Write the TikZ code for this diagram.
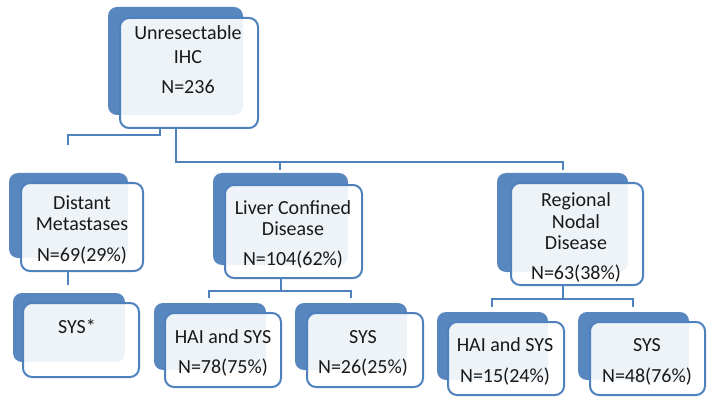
\documentclass[tikz,border=0pt]{standalone}
\usepackage{fontspec}
\setmainfont{Carlito}
\usetikzlibrary{backgrounds}
\definecolor{sablue}{RGB}{79,129,189}
\tikzset{
  backbox/.style={fill=sablue!95!white, rounded corners=9pt, inner sep=0pt, outer sep=0pt},
  frontbox/.style={draw=sablue, line width=2pt, fill=white, fill opacity=0.9, rounded corners=9pt, inner sep=0pt, outer sep=0pt},
  conn/.style={draw=sablue, line width=2pt},
  lbl/.style={anchor=base, inner sep=0pt, font=\fontsize{20}{24}\selectfont, text=black!90},
}
\begin{document}
\begin{tikzpicture}[x=1pt,y=-1pt]
\useasboundingbox (0,0) rectangle (714,406);
% back boxes
\node[backbox, minimum width=135pt, minimum height=108pt] (n0b) at (175.5,61) {};
\node[backbox, minimum width=119pt, minimum height=85pt] (n1b) at (68.5,215.5) {};
\node[backbox, minimum width=135pt, minimum height=92pt] (n2b) at (280.5,219) {};
\node[backbox, minimum width=131pt, minimum height=99pt] (n3b) at (562.5,222.5) {};
\node[backbox, minimum width=112pt, minimum height=69pt] (n4b) at (69,327.5) {};
\node[backbox, minimum width=112pt, minimum height=67pt] (n5b) at (210,336.5) {};
\node[backbox, minimum width=112pt, minimum height=67pt] (n6b) at (351,336.5) {};
\node[backbox, minimum width=111pt, minimum height=68pt] (n7b) at (492.5,346) {};
\node[backbox, minimum width=111pt, minimum height=68pt] (n8b) at (633.5,346) {};
% connector ends
\coordinate (c1) at (68,145);
\coordinate (c2) at (280,170);
\coordinate (c3) at (563,170);
\coordinate (c4) at (68,285);
\coordinate (c5) at (209,298);
\coordinate (c6) at (351,298);
\coordinate (c7) at (492,307);
\coordinate (c8) at (633,307);
% front boxes (named nodes)
\node[frontbox, minimum width=138pt, minimum height=110pt] (n0) at (189,73) {};
\node[frontbox, minimum width=122pt, minimum height=88pt] (n1) at (82,227) {};
\node[frontbox, minimum width=137pt, minimum height=93pt] (n2) at (293.5,231.5) {};
\node[frontbox, minimum width=132pt, minimum height=102pt] (n3) at (577,234) {};
\node[frontbox, minimum width=116pt, minimum height=74pt] (n4) at (81,340) {};
\node[frontbox, minimum width=116pt, minimum height=74pt] (n5) at (223,350) {};
\node[frontbox, minimum width=116pt, minimum height=74pt] (n6) at (365,350) {};
\node[frontbox, minimum width=116pt, minimum height=73pt] (n7) at (506,358.5) {};
\node[frontbox, minimum width=115pt, minimum height=73pt] (n8) at (647.5,358.5) {};
% connectors (beneath the boxes)
\begin{scope}[on background layer]
\draw[conn] (n0.south -| 160,0) |- (68,135) -- (c1);
\draw[conn] (n0.south -| 176,0) |- (563,162) -- (c3);
\draw[conn] (280,162) -- (c2);
\draw[conn] (n1.south -| c4) -- (c4);
\draw[conn] (n2.south -| 281,0) -- (281,291);
\draw[conn] (c5) |- (281,291) -| (c6);
\draw[conn] (n3.south -| 563,0) -- (563,299);
\draw[conn] (c7) |- (563,299) -| (c8);
\end{scope}
% labels
\node[lbl] (t0a) at (188,39.5) {Unresectable};
\node[lbl] (t0b) at (188,63.5) {IHC};
\node[lbl] (t0c) at (188,93.5) {N=236};
\node[lbl] (t1a) at (82,209.5) {Distant};
\node[lbl] (t1b) at (82,230.5) {Metastases};
\node[lbl] (t1c) at (82,261.5) {N=69(29\%)};
\node[lbl] (t2a) at (293,214.5) {Liver Confined};
\node[lbl] (t2b) at (293,235.5) {Disease};
\node[lbl] (t2c) at (293,265) {N=104(62\%)};
\node[lbl] (t3a) at (576,206.5) {Regional};
\node[lbl] (t3b) at (576,228.5) {Nodal};
\node[lbl] (t3c) at (576,249.5) {Disease};
\node[lbl] (t3d) at (576,279.5) {N=63(38\%)};
\node[lbl] (t4a) at (77,333.5) {SYS*};
\node[lbl] (t5a) at (223,343.5) {HAI and SYS};
\node[lbl] (t5b) at (223,373.5) {N=78(75\%)};
\node[lbl] (t6a) at (363,343.5) {SYS};
\node[lbl] (t6b) at (363,373.5) {N=26(25\%)};
\node[lbl] (t7a) at (505,351.5) {HAI and SYS};
\node[lbl] (t7b) at (505,382.5) {N=15(24\%)};
\node[lbl] (t8a) at (647,351.5) {SYS};
\node[lbl] (t8b) at (647,382.5) {N=48(76\%)};
\end{tikzpicture}
\end{document}
